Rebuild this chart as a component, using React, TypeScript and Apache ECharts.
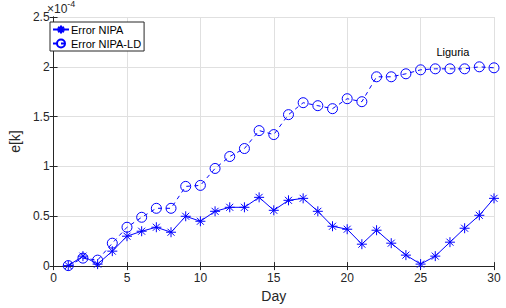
import React, { useEffect, useRef } from "react";
import * as echarts from "echarts";

const days = Array.from({ length: 30 }, (_, i) => i + 1);
const errNIPA = [0.005, 0.1, 0.02, 0.15, 0.3, 0.35, 0.39, 0.34, 0.5, 0.45, 0.55, 0.59, 0.59, 0.69, 0.56, 0.66, 0.68, 0.55, 0.4, 0.37, 0.22, 0.36, 0.23, 0.11, 0.02, 0.1, 0.24, 0.38, 0.51, 0.68];
const errNIPALD = [0.005, 0.08, 0.06, 0.23, 0.39, 0.49, 0.58, 0.58, 0.8, 0.81, 0.98, 1.1, 1.18, 1.36, 1.32, 1.52, 1.64, 1.61, 1.58, 1.68, 1.65, 1.9, 1.9, 1.93, 1.97, 1.98, 1.98, 1.98, 2.0, 1.99];
const seriesNames = ["Error NIPA", "Error NIPA-LD"];
const annotation = "Liguria";
const annotationAt = [27.2, 2.145];

const BLUE = "#0000ff";
const FONT = "Liberation Sans, Arial, Helvetica, sans-serif";
const STAR = "path://M0,-10L0,10M-10,0L10,0M-7,-7L7,7M-7,7L7,-7";
const RING = "path://M10,0A10,10,0,1,1,-10,0A10,10,0,1,1,10,0Z";

export default function App() {
  const ref = useRef<HTMLDivElement>(null);
  useEffect(() => {
    document.body.style.margin = "0";
    if (!ref.current) return;
    const chart = echarts.init(ref.current, null, { renderer: "svg" });
    const axisCommon = {
      type: "value" as const,
      axisLine: { show: true, lineStyle: { color: "#262626", width: 1 } },
      axisTick: { show: true, inside: true, length: 4, lineStyle: { color: "#262626" } },
    };
    chart.setOption({
      animation: false,
      backgroundColor: "#ffffff",
      textStyle: { fontFamily: FONT },
      grid: { left: 46, right: 12, top: 17, bottom: 41, containLabel: false },
      legend: {
        left: 50,
        top: 22,
        orient: "vertical",
        itemGap: 1,
        itemWidth: 16,
        itemHeight: 10,
        padding: [1, 3, 1, 2],
        borderColor: "#262626",
        borderWidth: 1,
        backgroundColor: "#ffffff",
        textStyle: { fontFamily: FONT, fontSize: 11, color: "#000", padding: [0, 0, 0, -3] },
        data: seriesNames,
      },
      xAxis: [
        {
          ...axisCommon,
          min: 0,
          max: 30,
          interval: 5,
          name: "Day",
          nameLocation: "middle",
          nameGap: 18,
          nameTextStyle: { fontSize: 14, color: "#262626", fontFamily: FONT },
          axisLabel: { fontSize: 12, color: "#262626", margin: 6, fontFamily: FONT },
          splitLine: { show: true, lineStyle: { color: "#e0e0e0", width: 1 } },
        },
        {
          ...axisCommon,
          position: "top",
          min: 0,
          max: 30,
          interval: 5,
          axisLabel: { show: false },
          splitLine: { show: false },
        },
      ],
      yAxis: [
        {
          ...axisCommon,
          min: 0,
          max: 2.5,
          interval: 0.5,
          name: "e[k]",
          nameLocation: "middle",
          nameGap: 24,
          nameTextStyle: { fontSize: 14, color: "#262626", fontFamily: FONT },
          axisLabel: { fontSize: 12, color: "#262626", margin: 4, fontFamily: FONT },
          splitLine: { show: true, lineStyle: { color: "#e0e0e0", width: 1 } },
        },
        {
          ...axisCommon,
          position: "right",
          min: 0,
          max: 2.5,
          interval: 0.5,
          axisLabel: { show: false },
          splitLine: { show: false },
        },
      ],
      series: [
        {
          name: seriesNames[0],
          type: "line",
          data: days.map((d, i) => [d, errNIPA[i]]),
          symbol: STAR,
          symbolSize: 10,
          showAllSymbol: true,
          itemStyle: { color: "none", borderColor: BLUE, borderWidth: 1 },
          lineStyle: { color: BLUE, width: 1 },
        },
        {
          name: seriesNames[1],
          type: "line",
          data: days.map((d, i) => [d, errNIPALD[i]]),
          symbol: RING,
          symbolSize: 10,
          showAllSymbol: true,
          itemStyle: { color: "none", borderColor: BLUE, borderWidth: 1 },
          lineStyle: { color: BLUE, width: 1, type: [4, 4] },
        },
      ],
    });
    const p = chart.convertToPixel({ gridIndex: 0 }, annotationAt) as number[];
    chart.setOption({
      graphic: [
        {
          type: "text",
          left: 47,
          top: -1,
          style: {
            text: "{a|×10}{b|-4}",
            rich: {
              a: { fontSize: 12, fontFamily: FONT, fill: "#262626", padding: [4, 0, 0, 0] },
              b: { fontSize: 9, fontFamily: FONT, fill: "#262626", verticalAlign: "top" },
            },
          },
        },
        {
          type: "text",
          x: p[0],
          y: p[1],
          style: {
            text: annotation,
            fontSize: 11,
            fontFamily: FONT,
            fill: "#000",
            align: "center",
            verticalAlign: "middle",
          },
        },
      ],
    });
    return () => chart.dispose();
  }, []);
  return <div ref={ref} style={{ width: 506, height: 308 }} />;
}
